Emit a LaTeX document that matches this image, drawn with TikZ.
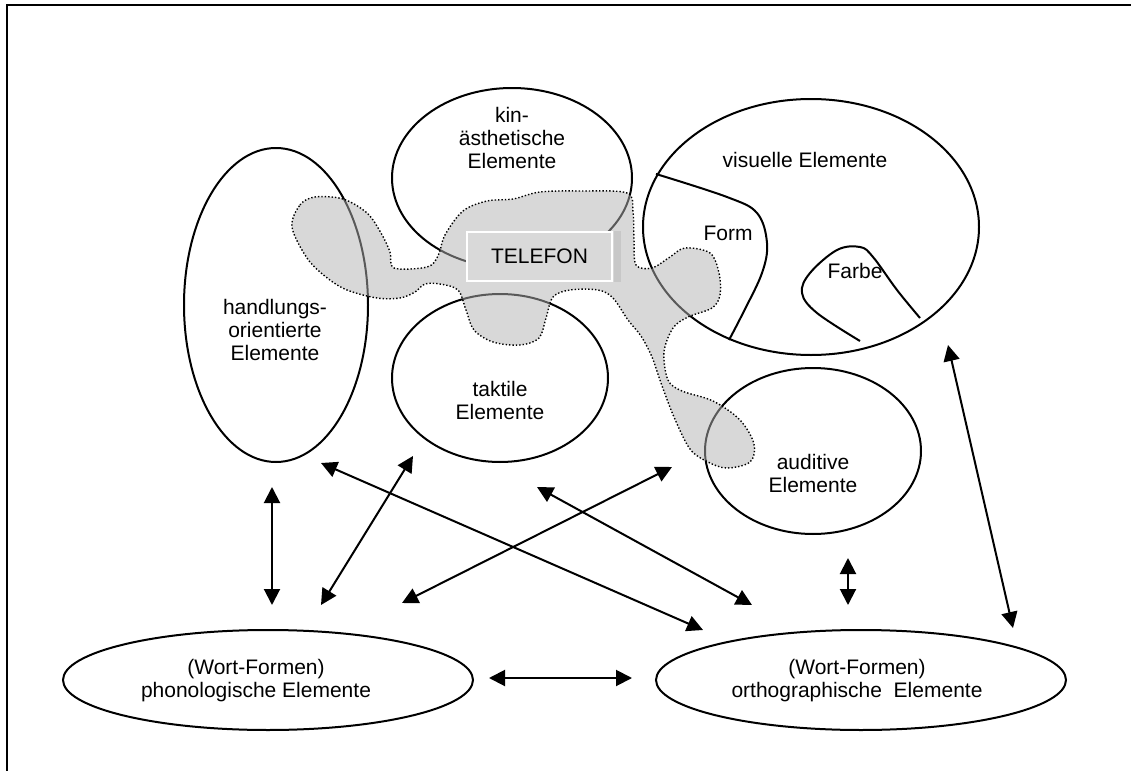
\documentclass[tikz,border=0pt]{standalone}
\usepackage{fontspec}
\setmainfont{Liberation Sans}
\usetikzlibrary{shapes.geometric,arrows.meta}

\begin{document}
\begin{tikzpicture}[x=0.5pt,y=-0.5pt,
  elem/.style={ellipse, draw, line width=1pt, inner sep=0pt},
  txt/.style={align=center, font=\fontsize{10.5pt}{11.5pt}\selectfont},
  pfeil/.style={line width=1pt, {Triangle[length=8pt,width=8pt]}-{Triangle[length=8pt,width=8pt]}}]
\useasboundingbox (0,0) rectangle (1131,771);
\draw[line width=1pt] (7,771) -- (7,5) -- (1131,5);

\node [elem, minimum width=92pt, minimum height=157pt] (hand) at (276,305) {};
\node [elem, minimum width=120pt, minimum height=90pt] (kin) at (512,178) {};
\node [elem, minimum width=108pt, minimum height=84pt] (takt) at (500,378) {};
\node [elem, minimum width=168pt, minimum height=128pt] (vis) at (811,227) {};
\node [elem, minimum width=108pt, minimum height=83pt] (aud) at (813,451) {};
\node [elem, minimum width=205pt, minimum height=50pt] (phon) at (268,680) {};
\node [elem, minimum width=205pt, minimum height=50pt] (orth) at (861,680) {};

% Form und Farbe
\draw[line width=1pt] plot[smooth, tension=0.6] coordinates {(656,174) (727,197) (757,213) (767,243) (762,273) (743,313) (729,340)};
\draw[line width=1pt] plot[smooth, tension=0.6] coordinates {(860,341) (817,313) (802,293) (810,273) (837,250) (860,247) (873,257) (897,290) (920,318)};

% TELEFON-Feld
\filldraw[fill=black!30, fill opacity=0.5, densely dotted, line width=0.7pt] plot[smooth cycle, tension=0.55] coordinates {
  (292,227) (300,205) (315,197) (343,199) (367,213) (381,233) (390,252) (394,268) (427,267) (438,256)
  (445,235) (463,211) (487,201) (513,199) (540,192) (580,191) (627,193) (633,212) (634,240) (636,265)
  (652,268) (670,257) (685,248) (710,253) (719,273) (720,295) (712,308) (688,317) (673,328) (664,352)
  (668,380) (682,391) (713,401) (740,420) (754,444) (750,462) (727,468) (708,462) (690,449) (674,417)
  (661,383) (652,357) (641,336) (628,320) (613,298) (598,290) (570,290) (553,297) (546,318) (539,338)
  (520,345) (493,342) (474,330) (466,310) (458,290) (440,284) (425,284) (415,292) (400,298) (377,298)
  (347,290) (326,277) (307,258)};

\node [txt, draw=white, line width=1pt, fill=black!15, minimum width=72.5pt, minimum height=24.5pt] (telefon) at (539.5,256.5) {TELEFON};
\fill[black!22] ([xshift=0.5pt]telefon.north east) rectangle ([xshift=4pt]telefon.south east);

% Beschriftungen
\node [txt] (kintxt) at (512,138) {kin-\\ästhetische\\Elemente};
\node [txt] (vistxt) at (805,160) {visuelle Elemente};
\node [txt] (formtxt) at (728,233) {Form};
\node [txt] (farbtxt) at (855,271) {Farbe};
\node [txt] (handtxt) at (275,330) {handlungs-\\orientierte\\Elemente};
\node [txt] (takttxt) at (500,400) {taktile\\Elemente};
\node [txt] (audtxt) at (813,473) {auditive\\Elemente};
\node [txt] (phontxt) at (256,681) {(Wort-Formen)\\phonologische Elemente};
\node [txt] (orthtxt) at (857,681) {(Wort-Formen)\\orthographische\ \ Elemente};

% Pfeilenden
\coordinate (p1a) at (272,487);  \coordinate (p1b) at (272,605);
\coordinate (p2a) at (321,605);  \coordinate (p2b) at (413,456);
\coordinate (p3a) at (321,463);  \coordinate (p3b) at (703,630);
\coordinate (p4a) at (402,603);  \coordinate (p4b) at (672,467);
\coordinate (p5a) at (537,487);  \coordinate (p5b) at (752,605);
\coordinate (p6a) at (848,558);  \coordinate (p6b) at (848,605);
\coordinate (p7a) at (948,345);  \coordinate (p7b) at (1013,628);
\coordinate (p8a) at (489,678);  \coordinate (p8b) at (632,678);

\draw[pfeil] (p1a) -- (p1b);
\draw[pfeil] (p2a) -- (p2b);
\draw[pfeil] (p3a) -- (p3b);
\draw[pfeil] (p4a) -- (p4b);
\draw[pfeil] (p5a) -- (p5b);
\draw[pfeil] (p6a) -- (p6b);
\draw[pfeil] (p7a) -- (p7b);
\draw[pfeil] (p8a) -- (p8b);
\end{tikzpicture}
\end{document}
